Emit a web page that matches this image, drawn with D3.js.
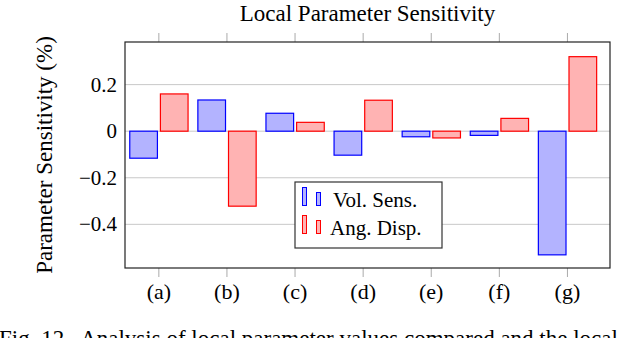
<!DOCTYPE html>
<html>
<head>
<meta charset="utf-8">
<script src="https://cdn.jsdelivr.net/npm/d3@7"></script>
<style>
  body { margin: 0; background: #fff; }
  svg { display: block; }
</style>
</head>
<body>
<div id="chart"></div>
<script>
const categories = ["(a)", "(b)", "(c)", "(d)", "(e)", "(f)", "(g)"];
const volSens = [-0.116, 0.134, 0.077, -0.103, -0.024, -0.018, -0.531];
const angDisp = [0.160, -0.322, 0.038, 0.133, -0.029, 0.055, 0.320];
const yTicks = [-0.4, -0.2, 0, 0.2];
const seriesNames = ["Vol. Sens.", "Ang. Disp."];

const width = 640;
const height = 338;
const frame = { left: 125, right: 610, top: 42, bottom: 268 };
const serif = "'Liberation Serif', 'Times New Roman', Times, serif";

const svg = d3.select("#chart")
  .append("svg")
  .attr("width", width)
  .attr("height", height)
  .attr("font-family", serif);

const x = d3.scaleLinear()
  .domain([-0.497, 6.625])
  .range([frame.left, frame.right]);

const y = d3.scaleLinear()
  .domain([-0.5875, 0.383])
  .range([frame.bottom, frame.top]);

// grid lines
svg.append("g")
  .selectAll("line")
  .data(yTicks)
  .join("line")
  .attr("x1", frame.left)
  .attr("x2", frame.right)
  .attr("y1", d => y(d))
  .attr("y2", d => y(d))
  .attr("stroke", "#c8c8c8")
  .attr("stroke-width", 1);

// y tick labels
const fmt = d => d === 0 ? "0" : d3.format(".1f")(d).replace("-", "\u2212");
svg.append("g")
  .selectAll("text")
  .data(yTicks)
  .join("text")
  .attr("x", frame.left - 8)
  .attr("y", d => y(d) + 7)
  .attr("text-anchor", "end")
  .attr("font-size", "21px")
  .text(fmt);

// category ticks (outside, top and bottom)
const catIdx = categories.map((c, i) => i);
svg.append("g")
  .selectAll("line")
  .data(catIdx)
  .join("line")
  .attr("x1", d => x(d))
  .attr("x2", d => x(d))
  .attr("y1", frame.top - 9)
  .attr("y2", frame.top)
  .attr("stroke", "#aaa");
svg.append("g")
  .selectAll("line")
  .data(catIdx)
  .join("line")
  .attr("x1", d => x(d))
  .attr("x2", d => x(d))
  .attr("y1", frame.bottom)
  .attr("y2", frame.bottom + 9)
  .attr("stroke", "#aaa");

svg.append("g")
  .selectAll("text")
  .data(categories)
  .join("text")
  .attr("x", (d, i) => x(i))
  .attr("y", 299)
  .attr("text-anchor", "middle")
  .attr("font-size", "22px")
  .text(d => d);

// bars
const barW = 0.406;
function drawBars(vals, off, fill, stroke) {
  svg.append("g")
    .selectAll("rect")
    .data(vals)
    .join("rect")
    .attr("x", (d, i) => x(i + off))
    .attr("width", (d, i) => x(i + off + barW) - x(i + off))
    .attr("y", d => y(Math.max(0, d)))
    .attr("height", d => Math.abs(y(d) - y(0)))
    .attr("fill", fill)
    .attr("stroke", stroke)
    .attr("stroke-width", 1.2);
}
drawBars(volSens, -0.427, "#b3b3ff", "#0000ff");
drawBars(angDisp, 0.023, "#ffb3b3", "#ff0000");

// frame
svg.append("rect")
  .attr("x", frame.left)
  .attr("y", frame.top)
  .attr("width", frame.right - frame.left)
  .attr("height", frame.bottom - frame.top)
  .attr("fill", "none")
  .attr("stroke", "#222")
  .attr("stroke-width", 1.2);

// title
svg.append("text")
  .attr("x", (frame.left + frame.right) / 2)
  .attr("y", 21)
  .attr("text-anchor", "middle")
  .attr("font-size", "23px")
  .text("Local Parameter Sensitivity");

// y label
svg.append("text")
  .attr("transform", `translate(52,${(frame.top + frame.bottom) / 2}) rotate(-90)`)
  .attr("text-anchor", "middle")
  .attr("font-size", "23px")
  .text("Parameter Sensitivity (%)");

// legend
const legend = svg.append("g").attr("transform", "translate(295,182)");
legend.append("rect")
  .attr("width", 147)
  .attr("height", 66)
  .attr("fill", "#fff")
  .attr("stroke", "#333")
  .attr("stroke-width", 1.2);

const legColors = [["#b3b3ff", "#0000ff"], ["#ffb3b3", "#ff0000"]];
seriesNames.forEach((name, i) => {
  const g = legend.append("g").attr("transform", `translate(0,${i * 28})`);
  g.append("rect").attr("x", 7.5).attr("y", 5.5).attr("width", 4).attr("height", 18)
    .attr("fill", legColors[i][0]).attr("stroke", legColors[i][1]);
  g.append("rect").attr("x", 21.5).attr("y", 10.5).attr("width", 4).attr("height", 13)
    .attr("fill", legColors[i][0]).attr("stroke", legColors[i][1]);
  g.append("text")
    .attr("x", i === 0 ? 38 : 35)
    .attr("y", 24.5)
    .attr("font-size", "21px")
    .text(name);
});

// caption (cut off at bottom edge, as in the source figure)
svg.append("text")
  .attr("x", -1)
  .attr("y", 346)
  .attr("font-size", "23px")
  .attr("xml:space", "preserve")
  .text("Fig. 12.  Analysis of local parameter values compared and the local");
</script>
</body>
</html>
